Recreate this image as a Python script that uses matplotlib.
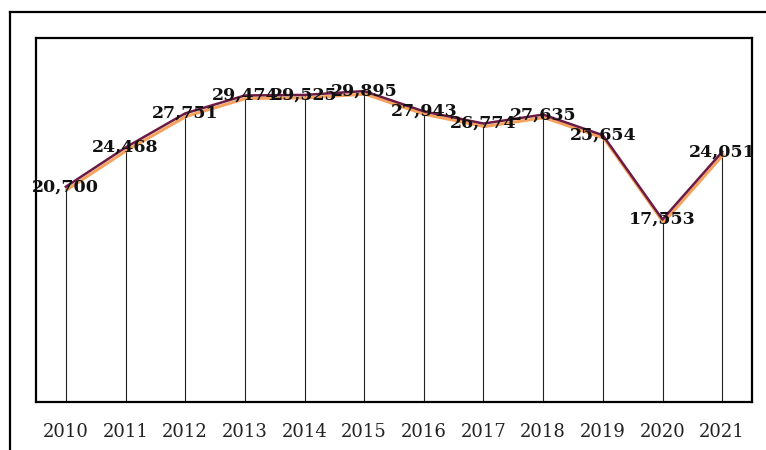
import matplotlib.pyplot as plt
import matplotlib.transforms as mtransforms
from matplotlib.lines import Line2D

years = ['2010', '2011', '2012', '2013', '2014', '2015',
         '2016', '2017', '2018', '2019', '2020', '2021']
values = [20700, 24468, 27751, 29474, 29525, 29895,
          27943, 26774, 27635, 25654, 17553, 24051]
labels = ['20,700', '24,468', '27,751', '29,474', '29,525', '29,895',
          '27,943', '26,774', '27,635', '25,654', '17,553', '24,051']

fig = plt.figure(figsize=(7.66, 4.5), dpi=100)
ax = fig.add_axes([36/766, 1 - 402/450, (752-36)/766, (402-38)/450])

x = list(range(len(years)))

# drop lines from each point to the axis
ax.vlines(x, 0, values, colors='#222222', linewidth=0.8, zorder=1)

# orange "shadow" line, shifted a few pixels down/right
shadow = mtransforms.offset_copy(ax.transData, fig=fig, x=1, y=-3, units='dots')
ax.plot(x, values, color='#F5A25D', linewidth=2.2, transform=shadow, zorder=2)
ax.plot(x, values, color='#6B1A45', linewidth=1.8, zorder=3)

for xi, v, lab in zip(x, values, labels):
    ax.text(xi, v, lab, ha='center', va='center', fontsize=12.5,
            fontweight='bold', family='DejaVu Serif', color='#111111', zorder=4)

ax.set_xlim(-0.5, len(years) - 0.5)
ax.set_ylim(0, 35000)
ax.set_yticks([])
ax.set_xticks(x)
ax.set_xticklabels(years, family='DejaVu Serif', fontsize=13, color='#222222')
ax.tick_params(axis='x', length=0, pad=15)
for s in ax.spines.values():
    s.set_linewidth(1.6)
    s.set_color('black')

# outer frame (top and left edges visible)
fig.add_artist(Line2D([10/766, 1.0], [1 - 12/450, 1 - 12/450],
                      transform=fig.transFigure, color='black', linewidth=1.6))
fig.add_artist(Line2D([10/766, 10/766], [0.0, 1 - 12/450],
                      transform=fig.transFigure, color='black', linewidth=1.6))

fig.savefig('out.png', dpi=100)
